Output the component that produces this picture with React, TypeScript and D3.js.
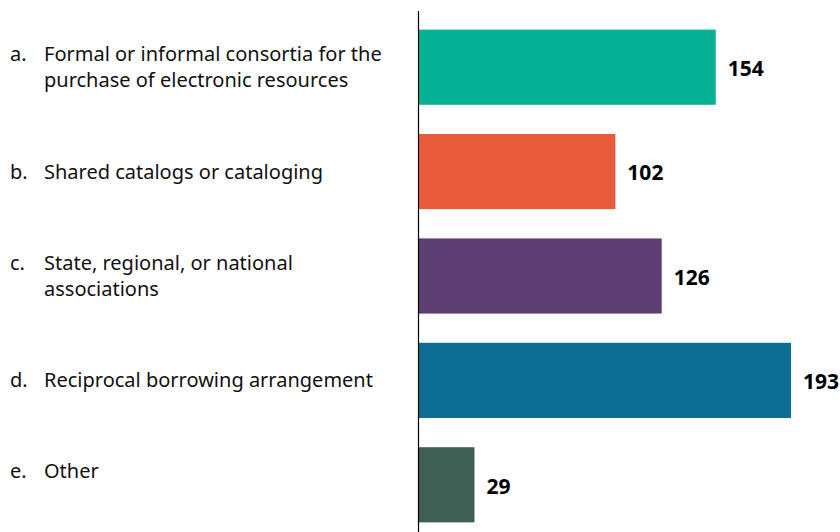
import React, { useRef, useEffect } from 'react';
import * as d3 from 'd3';

// Chart data
const letters = ['a.', 'b.', 'c.', 'd.', 'e.'];
const categories = [
  ['Formal or informal consortia for the', 'purchase of electronic resources'],
  ['Shared catalogs or cataloging'],
  ['State, regional, or national', 'associations'],
  ['Reciprocal borrowing arrangement'],
  ['Other']
];
const values = [154, 102, 126, 193, 29];
const colors = ['#06b196', '#e85b3b', '#5e3f73', '#0e6d94', '#3f5f55'];

const WIDTH = 840;
const HEIGHT = 532;
const FONT = '"Noto Sans", "Open Sans", sans-serif';

const App: React.FC = () => {
  const svgRef = useRef<SVGSVGElement>(null);

  useEffect(() => {
    if (!svgRef.current) return;
    const svg = d3.select(svgRef.current);
    svg.selectAll('*').remove();

    const keys = letters.map((_, i) => String(i));

    const yScale = d3.scaleBand<string>()
      .domain(keys)
      .range([15, 537])
      .paddingInner(0.28)
      .paddingOuter(0.14);

    const xScale = d3.scaleLinear()
      .domain([0, 193])
      .range([418.5, 791]);

    // Bars
    svg.append('g')
      .selectAll('rect')
      .data(values)
      .join('rect')
      .attr('x', xScale(0))
      .attr('y', (_, i) => yScale(keys[i]) as number)
      .attr('width', d => xScale(d) - xScale(0))
      .attr('height', yScale.bandwidth())
      .attr('fill', (_, i) => colors[i]);

    // Value labels
    svg.append('g')
      .selectAll('text')
      .data(values)
      .join('text')
      .attr('x', d => xScale(d) + 12)
      .attr('y', (_, i) => (yScale(keys[i]) as number) + yScale.bandwidth() / 2)
      .attr('dy', '0.42em')
      .style('font-family', FONT)
      .style('font-size', '21px')
      .style('font-weight', 'bold')
      .style('fill', '#000')
      .text(d => d);

    // Category labels
    const lineHeight = 26;
    const labels = svg.append('g');
    categories.forEach((lines, i) => {
      // last label sits a bit higher than its bar in the original
      const shift = i === categories.length - 1 ? -14 : 0;
      const cy = (yScale(keys[i]) as number) + yScale.bandwidth() / 2 + shift;
      const top = cy - ((lines.length - 1) * lineHeight) / 2;

      labels.append('text')
        .attr('x', 10)
        .attr('y', top)
        .attr('dy', '0.35em')
        .style('font-family', FONT)
        .style('font-size', '20px')
        .style('fill', '#111')
        .text(letters[i]);

      const t = labels.append('text')
        .style('font-family', FONT)
        .style('font-size', '20px')
        .style('fill', '#111');
      lines.forEach((line, j) => {
        t.append('tspan')
          .attr('x', 44)
          .attr('y', top + j * lineHeight)
          .attr('dy', '0.35em')
          .text(line);
      });
    });

    // Vertical axis line
    svg.append('line')
      .attr('x1', xScale(0))
      .attr('x2', xScale(0))
      .attr('y1', 11)
      .attr('y2', HEIGHT)
      .attr('stroke', '#000')
      .attr('stroke-width', 1.2);
  }, []);

  return (
    <svg
      ref={svgRef}
      width={WIDTH}
      height={HEIGHT}
      style={{ position: 'absolute', left: 0, top: 0, background: '#fff' }}
    />
  );
};

export default App;
